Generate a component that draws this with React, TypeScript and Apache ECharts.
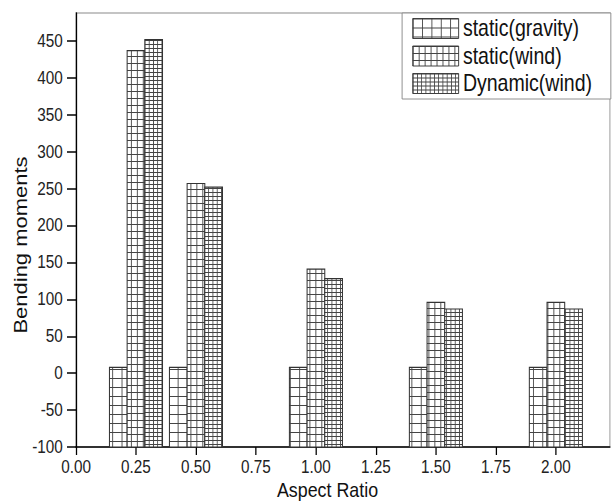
import React, { useEffect, useRef } from "react";
import * as echarts from "echarts";

// ---- data ----
const aspectRatios = [0.25, 0.5, 1.0, 1.5, 2.0];
const staticGravity = [8, 8, 8, 8, 8];
const staticWind = [437, 257, 141, 96, 96];
const dynamicWind = [452, 252, 128, 87, 87];
const seriesNames = ["static(gravity)", "static(wind)", "Dynamic(wind)"];
const xTicks = [0, 0.25, 0.5, 0.75, 1.0, 1.25, 1.5, 1.75, 2.0];
const yTicks = [-100, -50, 0, 50, 100, 150, 200, 250, 300, 350, 400, 450];

const W = 613;
const H = 502;
const SX = 0.85; // horizontal squeeze of the reference
const IW = W / SX;
const FONT = '"Liberation Sans", Arial, sans-serif';

function makePattern(cw: number, ch: number, color: string) {
  const c = document.createElement("canvas");
  c.width = cw;
  c.height = ch;
  const ctx = c.getContext("2d")!;
  ctx.fillStyle = "#ffffff";
  ctx.fillRect(0, 0, cw, ch);
  ctx.fillStyle = color;
  ctx.fillRect(0, 0, 1, ch);
  ctx.fillRect(0, 0, cw, 1);
  return { image: c, repeat: "repeat" } as any;
}

export default function App() {
  const ref = useRef<HTMLDivElement>(null);
  useEffect(() => {
    if (!ref.current) return;
    const chart = echarts.init(ref.current, undefined, { renderer: "svg" });
    const patterns = [
      makePattern(11, 9, "#444"),
      makePattern(7, 7, "#444"),
      makePattern(5, 4, "#444"),
    ];
    const dataSets = [staticGravity, staticWind, dynamicWind];
    const barW = 0.0737;
    const offsets = [-barW, 0, barW];
    const series = dataSets.map((vals, si) => ({
      type: "custom",
      name: seriesNames[si],
      itemStyle: { color: patterns[si], borderColor: "#333", borderWidth: 1 },
      data: aspectRatios.map((x, i) => [x, vals[i]]),
      renderItem: (params: any, api: any) => {
        const x = api.value(0) + offsets[si];
        const v = api.value(1);
        const top = api.coord([x, v]);
        const bottom = api.coord([x, -100]);
        const w = api.size([barW, 0])[0];
        return {
          type: "rect",
          shape: { x: top[0] - w / 2, y: top[1], width: w, height: bottom[1] - top[1] },
          style: { fill: patterns[si], stroke: "#333", lineWidth: 1.2 },
        };
      },
    }));
    chart.setOption({
      animation: false,
      backgroundColor: "#ffffff",
      textStyle: { fontFamily: FONT },
      grid: {
        left: 76 / SX,
        right: IW - 610 / SX,
        top: 13,
        bottom: H - 447,
        show: true,
        borderColor: "#c4c4c4",
        borderWidth: 2,
        backgroundColor: "transparent",
      },
      legend: {
        orient: "vertical",
        right: IW - 611 / SX,
        top: 13,
        icon: "rect",
        itemWidth: 54,
        itemHeight: 20,
        itemGap: 4.5,
        padding: [4, 22, 4, 12],
        borderColor: "#888",
        borderWidth: 1,
        backgroundColor: "#fff",
        itemStyle: { borderColor: "#333", borderWidth: 1 },
        textStyle: { fontSize: 23, lineHeight: 20, color: "#111", fontFamily: FONT },
        data: seriesNames,
      },
      xAxis: {
        type: "value",
        min: 0,
        max: 2.225,
        interval: 0.25,
        splitLine: { show: false },
        axisLine: { onZero: false, lineStyle: { color: "#000", width: 1.5 } },
        axisTick: { inside: false, length: 8, lineStyle: { color: "#000", width: 1.5 }, customValues: xTicks },
        axisLabel: {
          customValues: xTicks,
          formatter: (v: number) => v.toFixed(2),
          fontSize: 18,
          lineHeight: 18,
          color: "#222",
          margin: 11,
          fontFamily: FONT,
        },
      },
      yAxis: {
        type: "value",
        min: -100,
        max: 488,
        interval: 50,
        splitLine: { show: false },
        axisLine: { onZero: false, lineStyle: { color: "#000", width: 1.5 } },
        axisTick: { inside: false, length: 10.6, lineStyle: { color: "#000", width: 1.5 }, customValues: yTicks },
        axisLabel: {
          customValues: yTicks,
          fontSize: 18,
          color: "#222",
          margin: 15.6,
          fontFamily: FONT,
        },
      },
      graphic: [
        {
          type: "text",
          x: 327.5 / SX,
          y: 489.5,
          style: {
            text: "Aspect Ratio",
            font: `21px ${FONT}`,
            fill: "#111",
            align: "center",
            verticalAlign: "middle",
          },
        },
        {
          type: "text",
          x: 21 / SX,
          y: 245,
          rotation: Math.PI / 2,
          style: {
            text: "Bending moments",
            font: `22px ${FONT}`,
            fill: "#111",
            align: "center",
            verticalAlign: "middle",
          },
        },
      ],
      series,
    });
    return () => chart.dispose();
  }, []);
  return (
    <div
      ref={ref}
      style={{
        position: "fixed",
        left: 0,
        top: 0,
        width: IW,
        height: H,
        transform: `scaleX(${SX})`,
        transformOrigin: "0 0",
      }}
    />
  );
}
